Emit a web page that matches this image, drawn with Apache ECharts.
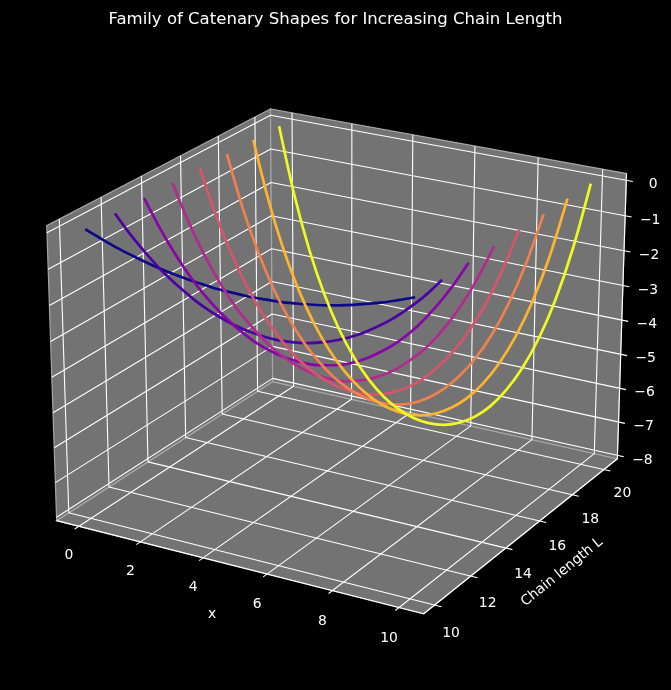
<!DOCTYPE html>
<html><head><meta charset="utf-8">
<style>html,body{margin:0;padding:0;background:#000}#c{width:671px;height:690px}</style>
<script src="https://cdn.jsdelivr.net/npm/echarts@6/dist/echarts.min.js"></script></head>
<body><div id="c"></div>
<script>
const xValues=[0,0.5,1,1.5,2,2.5,3,3.5,4,4.5,5,5.5,6,6.5,7,7.5,8,8.5,9,9.5,10];
const chainLengths=[10.14,11.57,13.0,14.43,15.85,17.28,18.71,20.14];
const curve1=[0,-0.17,-0.33,-0.46,-0.58,-0.68,-0.76,-0.82,-0.87,-0.89,-0.90,-0.89,-0.87,-0.82,-0.76,-0.68,-0.58,-0.46,-0.33,-0.17,0];
const curve2=[0,-0.52,-0.96,-1.35,-1.67,-1.95,-2.17,-2.34,-2.46,-2.53,-2.56,-2.53,-2.46,-2.34,-2.17,-1.95,-1.67,-1.35,-0.96,-0.52,0];
const curve3=[0,-0.77,-1.43,-2.00,-2.47,-2.85,-3.16,-3.40,-3.56,-3.66,-3.69,-3.66,-3.56,-3.40,-3.16,-2.85,-2.47,-2.00,-1.43,-0.77,0];
const curve4=[0,-1.00,-1.86,-2.57,-3.16,-3.62,-4.00,-4.28,-4.48,-4.60,-4.64,-4.60,-4.48,-4.28,-4.00,-3.62,-3.16,-2.57,-1.86,-1.00,0];
const curve5=[0,-1.24,-2.28,-3.13,-3.82,-4.37,-4.81,-5.13,-5.35,-5.48,-5.52,-5.48,-5.35,-5.13,-4.81,-4.37,-3.82,-3.13,-2.28,-1.24,0];
const curve6=[0,-1.47,-2.67,-3.65,-4.43,-5.05,-5.53,-5.89,-6.14,-6.28,-6.33,-6.28,-6.14,-5.89,-5.53,-5.05,-4.43,-3.65,-2.67,-1.47,0];
const curve7=[0,-1.71,-3.09,-4.19,-5.07,-5.76,-6.29,-6.68,-6.95,-7.11,-7.16,-7.11,-6.95,-6.68,-6.29,-5.76,-5.07,-4.19,-3.09,-1.71,0];
const curve8=[0,-1.95,-3.51,-4.74,-5.71,-6.46,-7.04,-7.46,-7.74,-7.91,-7.96,-7.91,-7.74,-7.46,-7.04,-6.46,-5.71,-4.74,-3.51,-1.95,0];
const curves=[curve1,curve2,curve3,curve4,curve5,curve6,curve7,curve8];
const curveColors=["#0d0887","#4c02a1","#8606a6","#b12a90","#d6556d","#f0804e","#fdb42f","#f0f921"];
const xTicks=[0,2,4,6,8,10];
const lTicks=[10,12,14,16,18,20];
const zTicks=[-8,-7,-6,-5,-4,-3,-2,-1,0];
const xLim=[-0.73,10.73], lLim=[9.41,20.87], zLim=[-8.1,0.19];

// matplotlib-style camera: elev 22, azim -60, box 4:4:3
const el=22*Math.PI/180, az=-60*Math.PI/180, dist=10;
const nrm=Math.sqrt(41), k=1.8294640721620434*25/24/nrm;
const box=[4*k,4*k,3*k];
const R=box.map(v=>v/2);
const w=[Math.cos(el)*Math.cos(az),Math.cos(el)*Math.sin(az),Math.sin(el)];
const E=[R[0]+dist*w[0],R[1]+dist*w[1],R[2]+dist*w[2]];
const cross=(a,b)=>[a[1]*b[2]-a[2]*b[1],a[2]*b[0]-a[0]*b[2],a[0]*b[1]-a[1]*b[0]];
let u=cross([0,0,1],w); const ul=Math.hypot(...u); u=u.map(v=>v/ul);
const v=cross(w,u);
const dot=(a,b)=>a[0]*b[0]+a[1]*b[1]+a[2]*b[2];
function cam(x,l,z){
  const p=[(x-xLim[0])/(xLim[1]-xLim[0])*box[0],(l-lLim[0])/(lLim[1]-lLim[0])*box[1],(z-zLim[0])/(zLim[1]-zLim[0])*box[2]];
  const d=[p[0]-E[0],p[1]-E[1],p[2]-E[2]];
  const zc=-dot(d,w);
  return [dot(d,u)/zc,dot(d,v)/zc];
}
// fit the camera plane to the frame of the plot
const frame=[
 [xLim[0],lLim[0],zLim[1],47.3,226],[xLim[0],lLim[1],zLim[1],270,109.3],[xLim[1],lLim[1],zLim[1],626.7,174],
 [xLim[0],lLim[0],zLim[0],56.7,521.3],[xLim[1],lLim[0],zLim[0],423.3,614.3],[xLim[1],lLim[1],zLim[0],617.7,459],[xLim[0],lLim[1],zLim[0],272.3,379]];
function fit(ax,col){
  let n=0,sa=0,sb=0,saa=0,sab=0;
  frame.forEach(f=>{const a=cam(f[0],f[1],f[2])[ax],b=f[col];n++;sa+=a;sb+=b;saa+=a*a;sab+=a*b;});
  const m=(n*sab-sa*sb)/(n*saa-sa*sa);return [m,(sb-m*sa)/n];
}
const fx=fit(0,3), fy=fit(1,4);
function P(x,l,z){const c=cam(x,l,z);return [fx[0]*c[0]+fx[1],fy[0]*c[1]+fy[1]];}

const [x0,x1]=xLim,[l0,l1]=lLim,[z0,z1]=zLim;
const tk=0.2;
const series=[];
const panes=[
 [[x0,l0,z0],[x1,l0,z0],[x1,l1,z0],[x0,l1,z0]],
 [[x0,l0,z0],[x0,l1,z0],[x0,l1,z1],[x0,l0,z1]],
 [[x0,l1,z0],[x1,l1,z0],[x1,l1,z1],[x0,l1,z1]]];
series.push({type:'custom',coordinateSystem:'cartesian2d',silent:true,clip:false,z:1,
  data:panes.map((p,i)=>[i]),
  renderItem:(params,api)=>({type:'polygon',
    shape:{points:panes[api.value(0)].map(q=>api.coord(P(q[0],q[1],q[2])))},
    style:{fill:'#737373',stroke:'#a6a6a6',lineWidth:1.2}})});
function seg(pts,color,width,z){
  series.push({type:'line',data:pts.map(q=>P(q[0],q[1],q[2])),showSymbol:false,symbol:'none',silent:true,clip:false,z:z,
    lineStyle:{color:color,width:width},animation:false});
}
const gc='#ffffff',gw=1.1;
xTicks.forEach(t=>seg([[t,l0-tk,z0],[t,l1,z0],[t,l1,z1]],gc,gw,2));
lTicks.forEach(t=>seg([[x1+tk,t,z0],[x0,t,z0],[x0,t,z1]],gc,gw,2));
zTicks.forEach(t=>seg([[x0,l0,t],[x0,l1,t],[x1+tk,l1,t]],gc,gw,2));
seg([[x0,l0,z0],[x1,l0,z0],[x1,l1,z0],[x1,l1,z1]],'#ffffff',1.1,3);
curves.forEach((c,i)=>{
  series.push({type:'line',name:'L'+i,smooth:0.3,symbol:'none',showSymbol:false,silent:true,clip:false,z:10+i,
    data:xValues.map((x,j)=>P(x,chainLengths[i],c[j])),
    lineStyle:{color:curveColors[i],width:2.7,cap:'butt'}});
});
function labels(items){
  series.push({type:'scatter',symbolSize:0,silent:true,clip:false,z:30,itemStyle:{opacity:1},
    data:items.map(it=>({value:it.p,label:{show:true,formatter:it.t,position:'inside',color:'#ffffff',opacity:1,
      fontFamily:'DejaVu Sans',fontSize:13.9,rotate:it.r||0,align:'center',verticalAlign:'middle'}}))});
}
const off=(p,dx,dy)=>[p[0]+dx,p[1]+dy];
const fmt=t=>String(t).replace('-','\u2212');
labels([
 ...xTicks.map(t=>({t:fmt(t),p:off(P(t,l0,z0),-10,29+t*0.2)})),
 ...lTicks.map(t=>({t:fmt(t),p:off(P(x1,t,z0),18.5-(20-t)*0.2,24+(20-t)*0.4)})),
 ...zTicks.map(t=>({t:fmt(t),p:off(P(x1,l1,t),t<0?25:27,4.5)})),
 {t:'x',p:[212,614]},
 {t:'Chain length L',p:[562,572],r:39}
]);
const chart=echarts.init(document.getElementById('c'),null,{renderer:'canvas'});
chart.setOption({
  animation:false,backgroundColor:'#000',
  title:{text:'Family of Catenary Shapes for Increasing Chain Length',left:'center',top:6,
    textStyle:{color:'#fff',fontFamily:'DejaVu Sans',fontSize:16.55,fontWeight:'normal'}},
  grid:{left:0,right:0,top:0,bottom:0,containLabel:false},
  xAxis:{type:'value',min:0,max:671,show:false},
  yAxis:{type:'value',min:0,max:690,inverse:true,show:false},
  series:series
});
</script></body></html>
